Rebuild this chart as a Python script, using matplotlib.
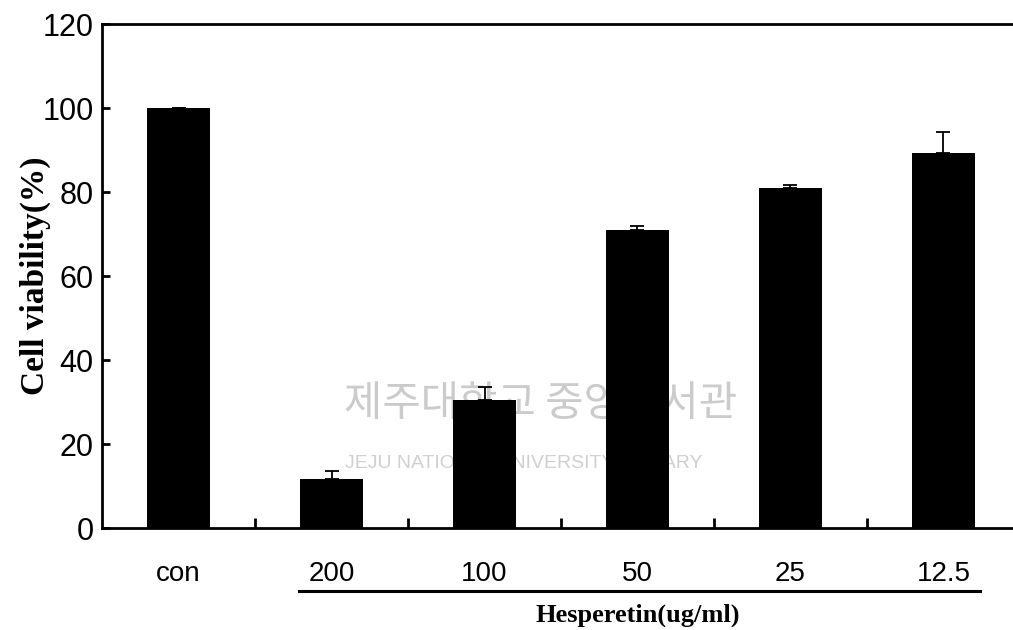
import numpy as np
import matplotlib.pyplot as plt
from matplotlib.ticker import FixedLocator

# data
groups = ['con', '200', '100', '50', '25', '12.5']
viability = [100.0, 11.6, 30.5, 71.0, 81.0, 89.4]
err_up = [0.0, 2.0, 3.0, 1.0, 0.6, 5.0]

plt.rcParams['font.family'] = ['Liberation Sans', 'DejaVu Sans']

fig = plt.figure(figsize=(10.13, 6.30), dpi=100)
ax = fig.add_axes([0.1007, 0.1619, 0.9062, 0.80])

x = np.arange(len(groups))

# faint library watermark behind the bars
ax.text(1.08, 29.5, '제주대학교 중앙도서관', family=['Noto Sans CJK KR'],
        fontsize=30, color='#cbcbcb', va='center', ha='left', zorder=0)
ax.text(1.09, 15.3, 'JEJU NATIONAL UNIVERSITY LIBRARY', family=['Liberation Sans'],
        fontsize=14, color='#d0d0d0', va='center', ha='left', zorder=0)

ax.bar(x, viability, width=0.41, color='black', zorder=2)
ax.errorbar(x, viability, yerr=[np.zeros(len(x)), err_up], fmt='none',
            ecolor='black', elinewidth=1.3, capsize=5, capthick=1.3, zorder=3)

ax.set_xlim(-0.5, len(groups) - 0.5)
ax.set_ylim(0, 120)
ax.set_yticks(np.arange(0, 121, 20))
ax.tick_params(axis='y', direction='in', length=6, width=2, labelsize=22, pad=6)

# ticks between groups, labels under groups
ax.xaxis.set_major_locator(FixedLocator(x[:-1] + 0.5))
ax.xaxis.set_minor_locator(FixedLocator(x))
ax.set_xticklabels([])
ax.set_xticklabels(groups, minor=True)
ax.tick_params(axis='x', which='major', direction='in', length=7, width=2)
ax.tick_params(axis='x', which='minor', length=0, labelsize=20, pad=24)

for s in ['left', 'bottom', 'top', 'right']:
    ax.spines[s].set_linewidth(2)

ax.set_ylabel('Cell viability(%)', family=['Liberation Serif'],
              fontweight='bold', fontsize=24)
ax.yaxis.set_label_coords(-0.056, 0.5)

# bracket line under the treatment groups
ax.plot([0.79, 5.24], [-0.125, -0.125], color='black', lw=2.2,
        transform=ax.get_xaxis_transform(), clip_on=False)
ax.text(3.0, -0.173, 'Hesperetin(ug/ml)', family=['Liberation Serif'],
        fontweight='bold', fontsize=19, ha='center', va='center',
        transform=ax.get_xaxis_transform())

fig.savefig('out.png', dpi=100)
